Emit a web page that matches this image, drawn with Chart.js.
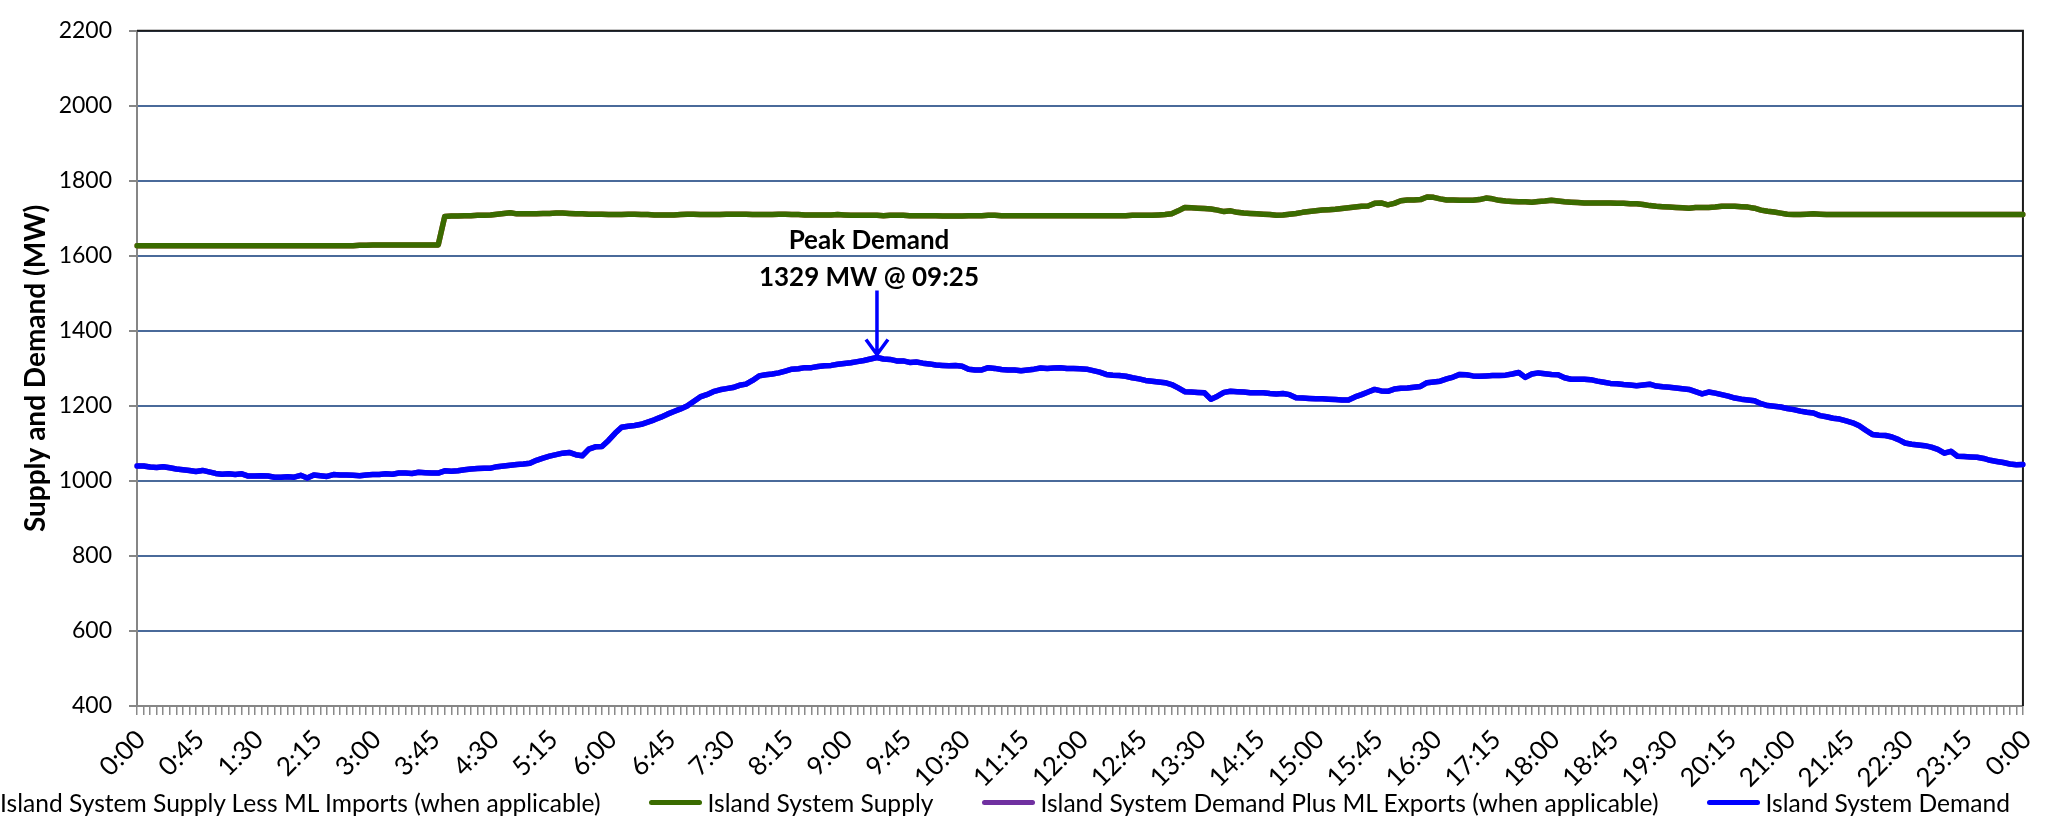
<!DOCTYPE html>
<html>
<head>
<meta charset="utf-8">
<script src="https://cdn.jsdelivr.net/npm/chart.js@4.4.1/dist/chart.umd.min.js"></script>
<style>
  body { margin: 0; background: #fff; }
  #wrap { position: relative; width: 2054px; height: 817px; overflow: hidden; }
  #legend {
    position: absolute; right: 44px; top: 786px; height: 32px;
    display: flex; align-items: center; justify-content: flex-end;
    white-space: nowrap; font-family: Lato, sans-serif; font-size: 24.6px; color: #000;
  }
  .item { display: flex; align-items: center; margin-left: 49px; }
  .swatch { width: 53px; height: 5px; border-radius: 3px; margin-right: 5px; }
</style>
</head>
<body>
<div id="wrap">
  <canvas id="chart" width="2054" height="817"></canvas>
  <div id="legend"></div>
</div>
<script>
// 5-minute readings, 0:00 to 0:00 next day
const times = [];
for (let m = 0; m <= 1440; m += 5) {
  times.push(Math.floor(m / 60) % 24 + ":" + String(m % 60).padStart(2, "0"));
}
const labelEvery = 9; // one label per 45 min

// Island System Supply (MW)
const supply = [
  1627,1627,1627,1627,1627,1627,1627,1627,1627,1627,1627,1627,
  1627,1627,1627,1627,1627,1627,1627,1627,1627,1627,1627,1627,
  1627,1627,1627,1627,1627,1627,1627,1627,1627,1627,1628,1628,
  1629,1629,1629,1629,1629,1629,1629,1629,1629,1629,1629,1705,
  1706,1706,1707,1707,1708,1708,1709,1711,1713,1715,1712,1712,
  1712,1712,1713,1713,1714,1714,1713,1712,1712,1711,1711,1711,
  1710,1710,1710,1711,1711,1710,1710,1709,1709,1709,1709,1710,
  1711,1711,1710,1710,1710,1710,1711,1711,1711,1711,1710,1710,
  1710,1710,1711,1711,1710,1710,1709,1709,1709,1709,1709,1710,
  1709,1708,1708,1708,1708,1708,1707,1708,1708,1708,1707,1707,
  1707,1707,1707,1706,1706,1706,1706,1707,1707,1707,1708,1708,
  1707,1707,1707,1707,1707,1707,1707,1707,1707,1707,1707,1707,
  1707,1707,1707,1707,1707,1707,1707,1707,1708,1708,1708,1708,
  1709,1710,1712,1720,1729,1728,1727,1726,1725,1722,1718,1720,
  1716,1714,1713,1712,1711,1710,1708,1709,1711,1713,1716,1718,
  1720,1722,1723,1724,1726,1728,1730,1732,1733,1740,1741,1736,
  1740,1747,1749,1749,1750,1757,1756,1752,1749,1749,1748,1748,
  1748,1750,1754,1752,1748,1746,1745,1744,1744,1743,1745,1746,
  1748,1746,1744,1743,1742,1741,1741,1741,1741,1741,1740,1740,
  1739,1739,1737,1734,1732,1731,1730,1729,1728,1727,1729,1729,
  1729,1730,1732,1732,1732,1731,1730,1727,1722,1719,1717,1714,
  1711,1710,1710,1711,1712,1711,1710,1710,1710,1710,1710,1710,
  1710,1710,1710,1710,1710,1710,1710,1710,1710,1710,1710,1710,
  1710,1710,1710,1710,1710,1710,1710,1710,1710,1710,1710,1710,
  1710
];

// Island System Demand (MW)
const demand = [
  1040,1040,1037,1036,1038,1035,1032,1030,1028,1025,1028,1024,
  1020,1018,1019,1017,1019,1013,1013,1014,1013,1010,1010,1011,
  1010,1015,1008,1016,1014,1012,1017,1016,1016,1015,1014,1016,
  1017,1017,1019,1018,1021,1021,1020,1023,1022,1021,1021,1027,
  1026,1027,1030,1032,1033,1034,1034,1038,1040,1042,1044,1045,
  1047,1055,1061,1066,1070,1074,1076,1070,1067,1085,1091,1092,
  1108,1127,1143,1146,1148,1151,1157,1163,1170,1178,1185,1192,
  1200,1212,1224,1230,1238,1243,1246,1249,1255,1258,1268,1280,
  1283,1285,1288,1293,1298,1299,1302,1302,1305,1307,1308,1311,
  1313,1315,1318,1321,1325,1329,1325,1324,1320,1320,1316,1317,
  1314,1312,1309,1308,1307,1308,1306,1298,1296,1296,1302,1300,
  1297,1296,1296,1294,1296,1298,1301,1300,1301,1302,1300,1300,
  1299,1298,1294,1290,1284,1282,1281,1279,1275,1272,1268,1266,
  1264,1262,1257,1248,1238,1237,1236,1235,1218,1226,1236,1239,
  1238,1237,1235,1235,1235,1233,1232,1233,1230,1222,1221,1220,
  1219,1219,1218,1217,1216,1216,1224,1230,1237,1244,1240,1239,
  1245,1247,1248,1250,1252,1262,1264,1266,1272,1277,1284,1283,
  1280,1279,1280,1281,1281,1282,1285,1289,1276,1285,1288,1286,
  1284,1283,1275,1271,1271,1271,1270,1266,1263,1260,1259,1257,
  1256,1254,1256,1258,1253,1251,1250,1248,1246,1244,1238,1232,
  1237,1234,1230,1226,1221,1218,1216,1214,1206,1201,1199,1197,
  1193,1190,1186,1183,1181,1174,1171,1167,1165,1160,1155,1147,
  1135,1124,1122,1121,1117,1110,1101,1098,1096,1094,1090,1084,
  1074,1079,1066,1065,1064,1063,1060,1055,1052,1049,1045,1043,
  1044
];

// no ML flows on this day: these sit under the supply / demand lines
const supplyLessImports = supply;
const demandPlusExports = demand;

const seriesNames = [
  "Island System Supply Less ML Imports (when applicable)",
  "Island System Supply",
  "Island System Demand Plus ML Exports (when applicable)",
  "Island System Demand"
];
const seriesColors = ["#C0504D", "#3A6B00", "#7030A0", "#0000FF"];

const yMin = 400, yMax = 2200, yStep = 200;

const peakIndex = demand.indexOf(Math.max(...demand));
const peakText = ["Peak Demand", demand[peakIndex] + " MW @ 0" + times[peakIndex]];

const FONT = "Lato, sans-serif";

// top and right frame of the plot area
const frame = {
  id: "frame",
  beforeDatasetsDraw(chart) {
    const { ctx, chartArea: a } = chart;
    ctx.save();
    ctx.strokeStyle = "#1a1a1a";
    ctx.lineWidth = 2;
    ctx.beginPath();
    ctx.moveTo(a.left, a.top);
    ctx.lineTo(a.right, a.top);
    ctx.lineTo(a.right, a.bottom);
    ctx.stroke();
    ctx.restore();
  }
};

// peak label with arrow
const peakNote = {
  id: "peakNote",
  afterDatasetsDraw(chart) {
    const { ctx, scales } = chart;
    const x = scales.x.getPixelForValue(peakIndex);
    const y = scales.y.getPixelForValue(demand[peakIndex]);
    ctx.save();
    ctx.fillStyle = "#000";
    ctx.font = "bold 26px " + FONT;
    ctx.textAlign = "center";
    ctx.textBaseline = "middle";
    ctx.fillText(peakText[0], x - 8, y - 117);
    ctx.fillText(peakText[1], x - 8, y - 80);
    ctx.strokeStyle = "#0000FF";
    ctx.lineWidth = 3.5;
    ctx.beginPath();
    ctx.moveTo(x, y - 67);
    ctx.lineTo(x, y - 3);
    ctx.moveTo(x - 11, y - 18);
    ctx.lineTo(x, y - 3);
    ctx.lineTo(x + 11, y - 18);
    ctx.stroke();
    ctx.restore();
  }
};

const seriesData = [supplyLessImports, supply, demandPlusExports, demand];
const drawOrder = [4, 3, 2, 1]; // later series drawn on top

const chart = new Chart(document.getElementById("chart"), {
  type: "line",
  data: {
    labels: times,
    datasets: seriesNames.map((name, i) => ({
      label: name,
      data: seriesData[i],
      borderColor: seriesColors[i],
      backgroundColor: seriesColors[i],
      borderWidth: 5.5,
      pointRadius: 0,
      tension: 0,
      borderJoinStyle: "round",
      borderCapStyle: "round",
      order: drawOrder[i]
    }))
  },
  options: {
    responsive: false,
    animation: false,
    layout: { padding: { left: 0, right: 16, top: 27, bottom: 0 } },
    plugins: { legend: { display: false }, tooltip: { enabled: false } },
    scales: {
      x: {
        grid: {
          drawOnChartArea: false,
          drawTicks: true,
          tickLength: 9,
          color: "#8a8a8a",
          lineWidth: 1.5
        },
        border: { color: "#868686", width: 2 },
        ticks: {
          autoSkip: false,
          minRotation: 45,
          maxRotation: 45,
          padding: 9,
          labelOffset: 4,
          color: "#000",
          font: { family: FONT, size: 26 },
          callback: (v, i) => (i % labelEvery === 0 ? times[i] : "")
        },
        afterFit: s => { s.height = 111; }
      },
      y: {
        min: yMin,
        max: yMax,
        ticks: {
          stepSize: yStep,
          padding: 17,
          color: "#000",
          font: { family: FONT, size: 23 },
          callback: v => String(v)
        },
        grid: {
          color: "#4A6A9A",
          lineWidth: 2,
          tickColor: "#868686",
          tickLength: 8
        },
        border: { color: "#868686", width: 2 },
        title: {
          display: true,
          text: "Supply and Demand (MW)",
          color: "#000",
          font: { family: FONT, size: 28, weight: "bold" },
          padding: { top: 19, bottom: 0 }
        },
        afterFit: s => { s.width = 137; }
      }
    }
  },
  plugins: [frame, peakNote]
});

// legend row, built from the datasets
const legend = document.getElementById("legend");
chart.data.datasets.forEach(ds => {
  const item = document.createElement("div");
  item.className = "item";
  const sw = document.createElement("div");
  sw.className = "swatch";
  sw.style.background = ds.borderColor;
  const txt = document.createElement("span");
  txt.textContent = ds.label;
  item.appendChild(sw);
  item.appendChild(txt);
  legend.appendChild(item);
});
</script>
</body>
</html>
